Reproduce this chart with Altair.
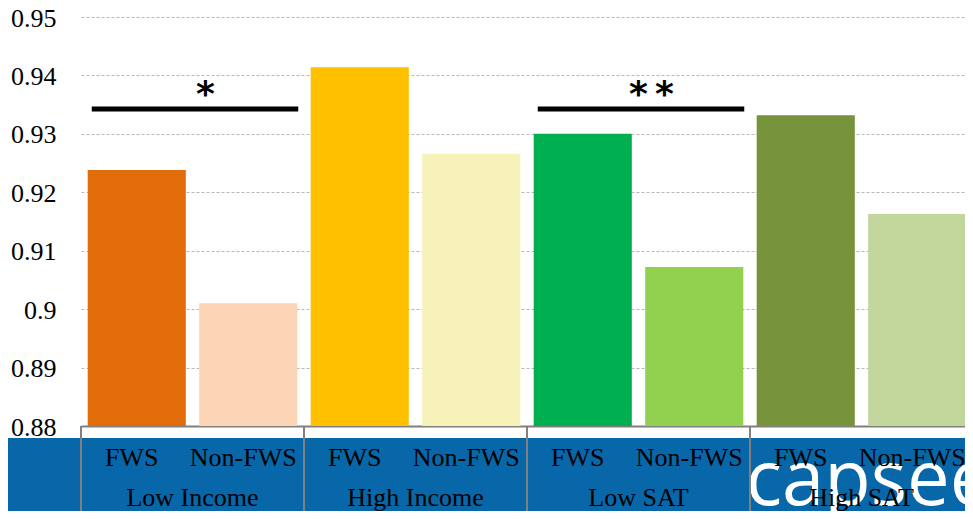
import altair as alt
import pandas as pd

groups = ["Low Income", "High Income", "Low SAT", "High SAT"]
types = ["FWS", "Non-FWS"]
values = [0.9238, 0.9010, 0.9414, 0.9266, 0.9300, 0.9072, 0.9332, 0.9163]
colors = ["#E36C0A", "#FBD5B5", "#FFC000", "#F7F2B9",
          "#00B050", "#92D050", "#77933C", "#C3D69B"]
y_ticks = [0.88, 0.89, 0.90, 0.91, 0.92, 0.93, 0.94, 0.95]

sig_start = ["Low Income FWS", "Low SAT FWS"]
sig_end = ["Low Income Non-FWS", "Low SAT Non-FWS"]
sig_level = [0.93425, 0.93425]
sig_text = ["*", "*\u2009*"]

rows = []
keys = []
for gi, g in enumerate(groups):
    for ti, t in enumerate(types):
        k = f"{g} {t}"
        keys.append(k)
        rows.append({"key": k, "group": g, "type": t, "value": values[gi * 2 + ti]})
df = pd.DataFrame(rows)
gdf = pd.DataFrame({"group": groups, "first": [f"{g} FWS" for g in groups],
                    "last": [f"{g} Non-FWS" for g in groups]})
sdf = pd.DataFrame({"start": sig_start, "end": sig_end, "level": sig_level, "label": sig_text})

XR = 892          # full x range of the category scale
W, H = 884, 409   # visible view size (page keeps an 8px margin)
BOTTOM = 85
STEP = XR / 8.0
SERIF = "Liberation Serif"

xscale = alt.Scale(domain=keys, range=[0, XR], paddingInner=0.12, paddingOuter=0.06)
yscale = alt.Scale(domain=[0.88, 0.95], zero=False, clamp=True)

xax = alt.Axis(labels=False, ticks=False, title=None, domainColor="#808080",
               domainWidth=2, grid=False)
yax = alt.Axis(values=y_ticks, format=".2~f", labelFont=SERIF, labelFontSize=26,
               labelColor="black", domain=False, ticks=False, labelPadding=25,
               labelOffset=1, title=None, gridDash=[3, 2], gridColor="#b8b8b8",
               gridWidth=1)


def X(field, **kw):
    return alt.X(field, scale=xscale, axis=xax, sort=keys, **kw)


def Y(field):
    return alt.Y(field, scale=yscale, axis=yax)


base = alt.Chart(df)

bars = base.mark_bar().encode(
    x=X("key:N"),
    y=Y("value:Q"),
    color=alt.Color("key:N", scale=alt.Scale(domain=keys, range=colors), legend=None),
)

band = alt.Chart(pd.DataFrame({"a": [0]})).mark_rect(color="#0767A9").encode(
    x=alt.value(-73), x2=alt.value(W), y=alt.value(421), y2=alt.value(H + BOTTOM)
)

logo = alt.Chart(gdf[gdf.group == "High SAT"]).mark_text(
    text="capsee", font="Open Sans", fontSize=76, color="white",
    align="left", baseline="alphabetic", dx=-11
).encode(
    x=X("first:N", bandPosition=0),
    y=alt.value(488),
)

seps = alt.Chart(gdf).mark_rule(color="#808080", strokeWidth=2, xOffset=-STEP * 0.06).encode(
    x=X("first:N", bandPosition=0),
    y=alt.value(H), y2=alt.value(H + BOTTOM),
)

type_labels = base.mark_text(font=SERIF, fontSize=26, color="black",
                             baseline="alphabetic", dx=-5).encode(
    x=X("key:N"),
    y=alt.value(449),
    text="type:N",
)

group_labels = alt.Chart(gdf).mark_text(font=SERIF, fontSize=26, color="black",
                                        baseline="alphabetic", dx=STEP / 2).encode(
    x=X("first:N"),
    y=alt.value(489),
    text="group:N",
)

sig_lines = alt.Chart(sdf).mark_rule(color="black", strokeWidth=5,
                                     xOffset=-45, x2Offset=50).encode(
    x=X("start:N"),
    x2="end:N",
    y=Y("level:Q"),
)

stars = alt.Chart(sdf).mark_text(font="DejaVu Sans", fontWeight="bold", fontSize=36,
                                 color="black", baseline="alphabetic",
                                 dx=STEP / 2 + 13, dy=-3).encode(
    x=X("start:N"),
    y=Y("level:Q"),
    text="label:N",
)

chart = alt.layer(
    bars, band, logo, seps, type_labels, group_labels, sig_lines, stars
).properties(
    width=W, height=H,
    autosize=alt.AutoSizeParams(type="none"),
    padding={"left": 73, "top": 9, "right": 0, "bottom": BOTTOM},
    background="white",
).configure_view(stroke=None).configure_axis(labelFont=SERIF)

chart.save("out.html", embed_options={"renderer": "svg", "actions": False})
